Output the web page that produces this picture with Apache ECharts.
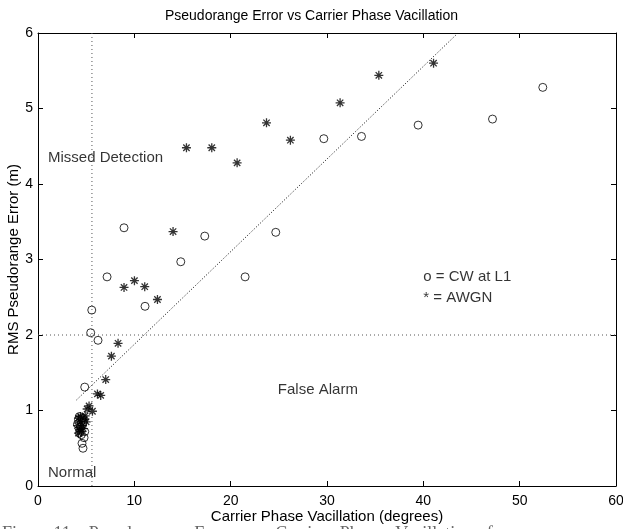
<!DOCTYPE html>
<html>
<head>
<meta charset="utf-8">
<script src="https://cdn.jsdelivr.net/npm/echarts@6/dist/echarts.min.js"></script>
<style>
html,body{margin:0;padding:0;background:#fff;}
#chart{width:623px;height:529px;}
</style>
</head>
<body>
<div id="chart"></div>
<script>
// CW at L1 (circles): [vacillation deg, RMS error m]
var cwPoints = [
  [4.67,0.50],[4.57,0.565],[4.78,0.64],[4.85,0.72],
  [4.2,0.88],[4.4,0.78],[4.3,0.70],[4.6,0.90],[4.5,0.68],[4.1,0.82],[4.7,0.85],[4.3,0.92],
  [4.85,1.31],[5.47,2.03],[5.58,2.33],[6.23,1.93],[7.17,2.77],[8.93,3.42],[11.11,2.38],
  [14.82,2.97],[17.31,3.31],[21.5,2.77],[24.68,3.36],[29.67,4.60],[33.58,4.63],
  [39.46,4.78],[47.18,4.86],[52.4,5.28]
];
// AWGN (asterisks)
var awgnPoints = [
  [4.2,0.90],[4.4,0.85],[4.6,0.80],[4.3,0.75],[4.5,0.72],[4.8,0.88],[4.1,0.80],[4.7,0.76],
  [4.4,0.92],[5.0,0.85],[4.2,0.70],[4.9,0.93],
  [5.1,1.02],[5.3,1.06],[5.65,0.99],[6.17,1.22],[6.51,1.20],[7.03,1.41],[7.62,1.72],[8.31,1.89],
  [8.93,2.63],[10.01,2.72],[11.08,2.64],[12.4,2.47],[14.02,3.37],[15.41,4.48],[18.04,4.48],
  [20.67,4.28],[23.72,4.81],[26.2,4.58],[31.36,5.075],[35.38,5.44],[41.06,5.60]
];
// Fit line endpoints
var fitLine = [[4.0,1.14],[43.6,6.0]];
// Threshold lines
var thresholdX = 5.6;
var thresholdY = 2;
// Region / legend annotations [x, y, text]
var annotations = [
  [1.04,4.35,'Missed Detection'],
  [24.9,1.28,'False Alarm'],
  [1.04,0.17,'Normal'],
  [40.0,2.77,'o = CW at L1'],
  [40.0,2.49,'* = AWGN']
];
var xTicks = {min:0,max:60,interval:10};
var yTicks = {min:0,max:6,interval:1};

var FONT = '"Liberation Sans", Arial, Helvetica, sans-serif';
var chart = echarts.init(document.getElementById('chart'), null, {renderer:'canvas'});

function axisCommon(show){
  return {
    axisLine:{show:true,onZero:false,lineStyle:{color:'#000',width:1}},
    axisTick:{show:true,inside:true,length:5,lineStyle:{color:'#000',width:1}},
    splitLine:{show:false},
    axisLabel:{show:show,color:'#000',fontSize:14,fontFamily:FONT}
  };
}

var starPath = 'path://M0,-4L0,4M-4,0L4,0M-2.83,-2.83L2.83,2.83M-2.83,2.83L2.83,-2.83';

var option = {
  animation:false,
  backgroundColor:'#fff',
  title:{
    text:'Pseudorange Error vs Carrier Phase Vacillation',
    left:'center', top:4,
    textStyle:{fontSize:14,fontWeight:'normal',color:'#000',fontFamily:FONT}
  },
  grid:{left:38,right:7,top:33,bottom:43,containLabel:false,outerBoundsMode:'none'},
  xAxis:[
    Object.assign({type:'value',position:'bottom',min:xTicks.min,max:xTicks.max,interval:xTicks.interval,
      name:'Carrier Phase Vacillation (degrees)',nameLocation:'middle',nameGap:23,nameMoveOverlap:false,
      nameTextStyle:{color:'#000',fontSize:15,fontFamily:FONT}}, axisCommon(true),
      {axisLabel:{show:true,color:'#000',fontSize:14,fontFamily:FONT,margin:8}}),
    Object.assign({type:'value',position:'top',min:xTicks.min,max:xTicks.max,interval:xTicks.interval}, axisCommon(false))
  ],
  yAxis:[
    Object.assign({type:'value',position:'left',min:yTicks.min,max:yTicks.max,interval:yTicks.interval,
      name:'RMS Pseudorange Error (m)',nameLocation:'middle',nameGap:17,nameMoveOverlap:false,
      nameTextStyle:{color:'#000',fontSize:15,fontFamily:FONT}}, axisCommon(true),
      {axisLabel:{show:true,color:'#000',fontSize:14,fontFamily:FONT,margin:5}}),
    Object.assign({type:'value',position:'right',min:yTicks.min,max:yTicks.max,interval:yTicks.interval}, axisCommon(false))
  ],
  series:[
    {type:'line',data:[[thresholdX,yTicks.min],[thresholdX,yTicks.max]],showSymbol:false,silent:true,
      lineStyle:{color:'#555',width:1,type:[1,3]},z:1},
    {type:'line',data:[[xTicks.min,thresholdY],[xTicks.max,thresholdY]],showSymbol:false,silent:true,
      lineStyle:{color:'#555',width:1,type:[1,3]},z:1},
    {type:'line',data:fitLine,showSymbol:false,silent:true,
      lineStyle:{color:'#000',width:1,type:[1,2]},z:1},
    {type:'scatter',name:'CW at L1',data:cwPoints,symbol:'circle',symbolSize:8,
      itemStyle:{color:'rgba(0,0,0,0)',borderColor:'#000',borderWidth:1},z:3},
    {type:'scatter',name:'AWGN',data:awgnPoints,symbol:starPath,symbolSize:9,
      itemStyle:{color:'rgba(0,0,0,0)',borderColor:'#000',borderWidth:1.3},z:3},
    {type:'scatter',data:annotations.map(function(a){return {value:[a[0],a[1]],name:a[2]};}),
      symbolSize:0,silent:true,
      label:{show:true,position:'right',distance:0,formatter:function(p){return p.name;},
        color:'#000',fontSize:15,fontFamily:FONT},z:4}
  ],
  graphic:[
    {type:'text',left:2,top:525,silent:true,
      style:{text:'Figure 11.   Pseudorange   Error   vs   Carrier   Phase   Vacillation   for',fill:'#666',
        font:'18px "Liberation Serif", "Times New Roman", serif'}}
  ]
};
chart.setOption(option);
</script>
</body>
</html>
